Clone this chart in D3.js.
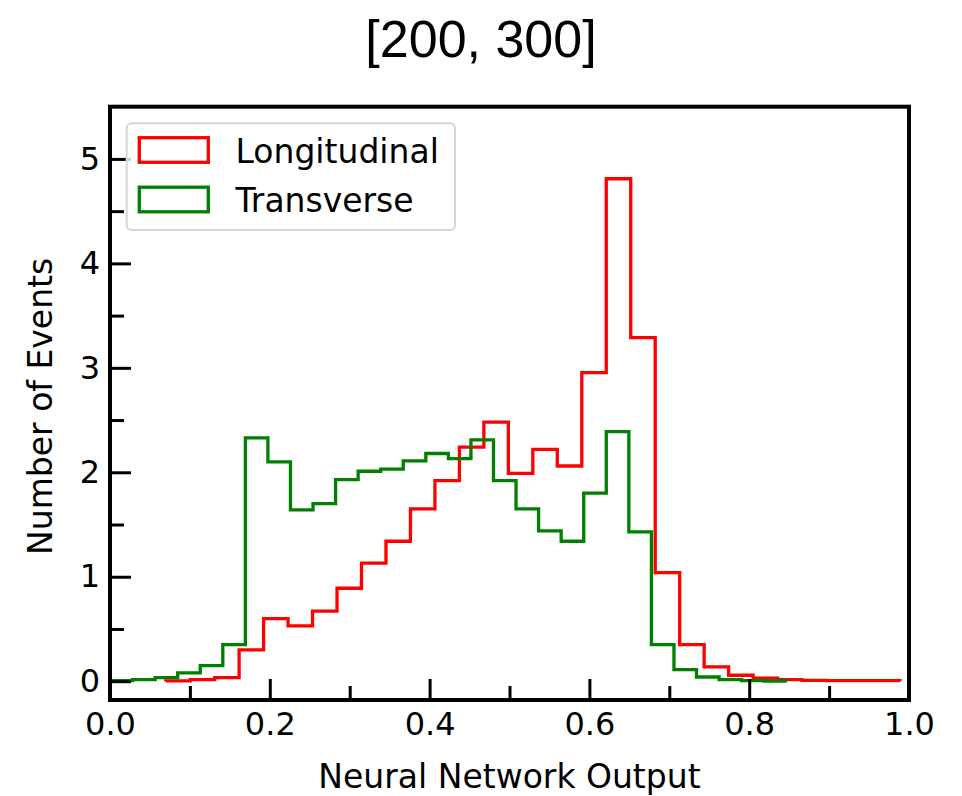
<!DOCTYPE html>
<html>
<head>
<meta charset="utf-8">
<script src="https://cdn.jsdelivr.net/npm/d3@7"></script>
<style>
  html, body { margin: 0; padding: 0; background: #fff; }
  svg { display: block; }
</style>
</head>
<body>
<script>
// ---- Data ----
const title = "[200, 300]";
const xLabel = "Neural Network Output";
const yLabel = "Number of Events";
const seriesNames = ["Longitudinal", "Transverse"];
const seriesColors = ["#ff0000", "#008000"];

// Longitudinal histogram: 30 equal bins over [0.0697, 0.9887]
const longRange = [0.0697, 0.9887];
const longValues = [0.003, 0.015, 0.035, 0.30, 0.60, 0.53, 0.67, 0.89, 1.13, 1.34,
                    1.65, 1.92, 2.24, 2.48, 1.99, 2.22, 2.06, 2.955, 4.81, 3.29,
                    1.04, 0.35, 0.137, 0.057, 0.029, 0.016, 0.008, 0.006, 0.005, 0.006];

// Transverse histogram: 30 equal bins over [0.0, 0.847]
const transRange = [0.0, 0.847];
const transValues = [0.005, 0.015, 0.035, 0.08, 0.15, 0.35, 2.33, 2.10, 1.64, 1.70,
                     1.93, 2.01, 2.03, 2.11, 2.18, 2.13, 2.31, 1.92, 1.65, 1.44,
                     1.34, 1.80, 2.39, 1.43, 0.35, 0.11, 0.04, 0.016, 0.005, 0.002];

const xTicks = [0.0, 0.2, 0.4, 0.6, 0.8, 1.0];
const xMinorTicks = [0.1, 0.3, 0.5, 0.7, 0.9];
const yTicks = [0, 1, 2, 3, 4, 5];
const yMinorTicks = [0.5, 1.5, 2.5, 3.5, 4.5];
const xDomain = [0, 1];
const yDomain = [-0.18, 5.5];

// ---- Layout ----
const W = 962, H = 796;
const plot = { left: 110, right: 909, top: 106.7, bottom: 700 };

const svg = d3.select("body").append("svg").attr("width", W).attr("height", H);

const x = d3.scaleLinear().domain(xDomain).range([plot.left, plot.right]);
const y = d3.scaleLinear().domain(yDomain).range([plot.bottom, plot.top]);

const FONT = "'DejaVu Sans', sans-serif";

function histPoints(range, values) {
  const n = values.length;
  const w = (range[1] - range[0]) / n;
  const edges = values.map((_, i) => range[0] + i * w);
  const pts = [[range[0], 0]];
  values.forEach((v, i) => pts.push([edges[i], v]));
  pts.push([range[1], values[n - 1]]);
  pts.push([range[1], 0]);
  return pts;
}

const line = d3.line()
  .x(d => x(d[0]))
  .y(d => y(d[1]))
  .curve(d3.curveStepAfter);

const hists = [[longRange, longValues], [transRange, transValues]];
hists.forEach((h, i) => {
  svg.append("path")
    .attr("d", line(histPoints(h[0], h[1])))
    .attr("fill", "none")
    .attr("stroke", seriesColors[i])
    .attr("stroke-width", 3.3)
    .attr("stroke-linejoin", "miter");
});

// ---- Axes (ticks inward) ----
const xAxis = d3.axisBottom(x).tickValues(xTicks).tickFormat(d3.format(".1f"))
  .tickSizeInner(-21).tickSizeOuter(0).tickPadding(12);
const gx = svg.append("g").attr("transform", `translate(0,${plot.bottom})`).call(xAxis);
gx.select(".domain").remove();
gx.selectAll(".tick line").attr("stroke", "#000").attr("stroke-width", 3);
gx.selectAll(".tick text").attr("font-family", FONT).attr("font-size", 32).attr("fill", "#000");

const xMinor = d3.axisBottom(x).tickValues(xMinorTicks).tickFormat("")
  .tickSizeInner(-14).tickSizeOuter(0);
const gxm = svg.append("g").attr("transform", `translate(0,${plot.bottom})`).call(xMinor);
gxm.select(".domain").remove();
gxm.selectAll(".tick line").attr("stroke", "#000").attr("stroke-width", 3);

const yAxis = d3.axisLeft(y).tickValues(yTicks).tickFormat(d3.format("d"))
  .tickSizeInner(-21).tickSizeOuter(0).tickPadding(10);
const gy = svg.append("g").attr("transform", `translate(${plot.left},0)`).call(yAxis);
gy.select(".domain").remove();
gy.selectAll(".tick line").attr("stroke", "#000").attr("stroke-width", 3);
gy.selectAll(".tick text").attr("font-family", FONT).attr("font-size", 32).attr("fill", "#000");

const yMinor = d3.axisLeft(y).tickValues(yMinorTicks).tickFormat("")
  .tickSizeInner(-14).tickSizeOuter(0);
const gym = svg.append("g").attr("transform", `translate(${plot.left},0)`).call(yMinor);
gym.select(".domain").remove();
gym.selectAll(".tick line").attr("stroke", "#000").attr("stroke-width", 3);

// Frame
svg.append("rect")
  .attr("x", plot.left).attr("y", plot.top)
  .attr("width", plot.right - plot.left).attr("height", plot.bottom - plot.top)
  .attr("fill", "none").attr("stroke", "#000").attr("stroke-width", 4);

// ---- Labels ----
svg.append("text")
  .attr("x", (plot.left + plot.right) / 2).attr("y", 788)
  .attr("text-anchor", "middle")
  .attr("font-family", FONT).attr("font-size", 33).attr("fill", "#000")
  .text(xLabel);

svg.append("text")
  .attr("transform", `translate(52,${(plot.top + plot.bottom) / 2 + 3}) rotate(-90)`)
  .attr("text-anchor", "middle")
  .attr("font-family", FONT).attr("font-size", 33).attr("fill", "#000")
  .text(yLabel);

svg.append("text")
  .attr("x", 481).attr("y", 57)
  .attr("text-anchor", "middle")
  .attr("font-family", "'Liberation Sans', Arial, sans-serif").attr("font-size", 52).attr("fill", "#000")
  .text(title);

// ---- Legend ----
const lg = svg.append("g");
lg.append("rect")
  .attr("x", 126.7).attr("y", 123.3).attr("width", 328.3).attr("height", 106.7)
  .attr("rx", 5).attr("ry", 5)
  .attr("fill", "#fff").attr("fill-opacity", 0.8)
  .attr("stroke", "#d6d6d6").attr("stroke-width", 2);

seriesNames.forEach((name, i) => {
  const cy = 150 + i * 49.5;
  lg.append("rect")
    .attr("x", 139.3).attr("y", cy - 12.3).attr("width", 69).attr("height", 24.6)
    .attr("fill", "none").attr("stroke", seriesColors[i]).attr("stroke-width", 3.3);
  lg.append("text")
    .attr("x", 235.5).attr("y", cy + 12.5)
    .attr("font-family", FONT).attr("font-size", 33).attr("fill", "#000")
    .text(name);
});
</script>
</body>
</html>
